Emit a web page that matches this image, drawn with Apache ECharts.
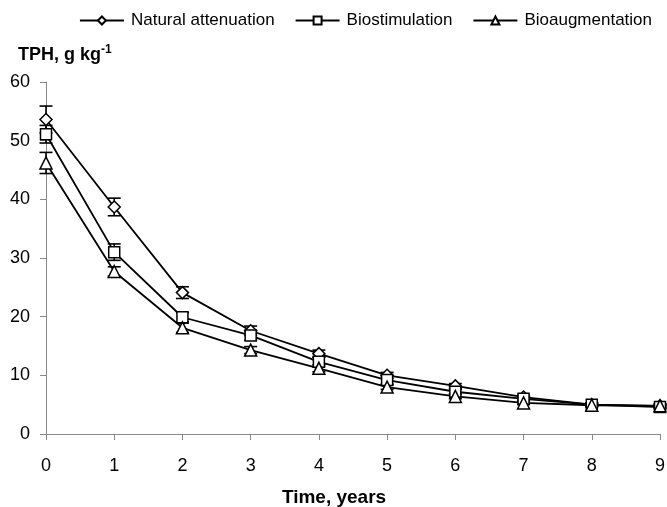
<!DOCTYPE html>
<html>
<head>
<meta charset="utf-8">
<script src="https://cdn.jsdelivr.net/npm/echarts@6/dist/echarts.min.js"></script>
<style>html,body{margin:0;padding:0;background:#fff}#c{width:667px;height:507px}</style>
</head>
<body>
<div id="c"></div>
<script>
var years = [0, 1, 2, 3, 4, 5, 6, 7, 8, 9];
var seriesNames = ['Natural attenuation', 'Biostimulation', 'Bioaugmentation'];
var natural = [53.6, 38.7, 24.1, 17.6, 13.7, 10.0, 8.2, 6.3, 5.0, 4.8];
var biostim = [51.1, 31.0, 19.9, 16.8, 12.3, 9.2, 7.2, 6.0, 5.0, 4.6];
var bioaug = [46.2, 27.7, 18.1, 14.3, 11.2, 8.0, 6.4, 5.3, 4.9, 4.8];
var naturalErr = [2.3, 1.5, 1.0, 0.8, 0.6, 0.5, 0.4, 0.3, 0.3, 0.3];
var biostimErr = [1.5, 1.4, 0.8, 0.8, 0.8, 0.7, 0.4, 0.3, 0.3, 0.3];
var bioaugErr = [1.8, 0.8, 0.8, 0.6, 0.6, 0.4, 0.4, 0.3, 0.3, 0.3];
var yTicks = [0, 10, 20, 30, 40, 50, 60];

var FONT = 'Liberation Sans, Arial, sans-serif';
var chart = echarts.init(document.getElementById('c'), null, {renderer: 'canvas'});

function pts(vals) { return years.map(function (x, i) { return [x, vals[i]]; }); }
function errPts(vals, errs) { return years.map(function (x, i) { return [x, vals[i] - errs[i], vals[i] + errs[i]]; }); }

function errSeries(vals, errs) {
  return {
    type: 'custom',
    silent: true,
    z: 2,
    data: errPts(vals, errs),
    renderItem: function (params, api) {
      var x = api.value(0);
      var lo = api.coord([x, api.value(1)]);
      var hi = api.coord([x, api.value(2)]);
      var w = 6.5;
      var st = {stroke: '#000', lineWidth: 1.6};
      return {
        type: 'group',
        children: [
          {type: 'line', shape: {x1: lo[0], y1: lo[1], x2: hi[0], y2: hi[1]}, style: st},
          {type: 'line', shape: {x1: lo[0] - w, y1: lo[1], x2: lo[0] + w, y2: lo[1]}, style: st},
          {type: 'line', shape: {x1: hi[0] - w, y1: hi[1], x2: hi[0] + w, y2: hi[1]}, style: st}
        ]
      };
    }
  };
}

function lineSeries(name, vals, symbol, size) {
  return {
    name: name,
    type: 'line',
    z: 3,
    data: pts(vals),
    symbol: symbol,
    symbolSize: size,
    showAllSymbol: true,
    lineStyle: {color: '#000', width: 1.8},
    itemStyle: {color: '#fff', borderColor: '#000', borderWidth: 1.5},
    emphasis: {disabled: true}
  };
}

chart.setOption({
  animation: false,
  backgroundColor: '#fff',
  title: {
    text: 'TPH, g kg{sup|-1}',
    left: 18,
    top: 44,
    padding: 0,
    textStyle: {
      fontFamily: FONT, fontSize: 18, fontWeight: 'bold', color: '#000',
      rich: {sup: {fontFamily: FONT, fontSize: 12, fontWeight: 'bold', color: '#000', verticalAlign: 'top', padding: [0, 0, 10, 0]}}
    }
  },
  legend: {
    top: 12,
    right: 15,
    padding: 0,
    itemWidth: 44,
    itemHeight: 10,
    itemGap: 20,
    data: seriesNames,
    textStyle: {fontFamily: FONT, fontSize: 17, color: '#000', padding: [0, 0, 0, 2]}
  },
  grid: {left: 46, right: 7, top: 82, bottom: 73, containLabel: false, outerBoundsMode: 'none'},
  xAxis: {
    type: 'value',
    min: 0, max: 9, interval: 1,
    name: 'Time, years',
    nameLocation: 'middle',
    nameGap: 54,
    nameTextStyle: {fontFamily: FONT, fontSize: 19, fontWeight: 'bold', color: '#000', padding: [0, 38, 0, 0]},
    axisLine: {lineStyle: {color: '#888', width: 1}},
    axisTick: {show: true, inside: false, length: 6, lineStyle: {color: '#888'}},
    axisLabel: {fontFamily: FONT, fontSize: 18, color: '#000', margin: 23},
    splitLine: {show: false}
  },
  yAxis: {
    type: 'value',
    min: yTicks[0], max: yTicks[yTicks.length - 1], interval: 10,
    axisLine: {show: true, lineStyle: {color: '#888', width: 1}},
    axisTick: {show: true, inside: false, length: 6, lineStyle: {color: '#888'}},
    axisLabel: {fontFamily: FONT, fontSize: 18, color: '#000', margin: 16},
    splitLine: {show: false}
  },
  series: [
    errSeries(natural, naturalErr),
    errSeries(biostim, biostimErr),
    errSeries(bioaug, bioaugErr),
    lineSeries(seriesNames[0], natural, 'diamond', 12),
    lineSeries(seriesNames[1], biostim, 'rect', 11),
    lineSeries(seriesNames[2], bioaug, 'triangle', 12)
  ]
});
</script>
</body>
</html>
